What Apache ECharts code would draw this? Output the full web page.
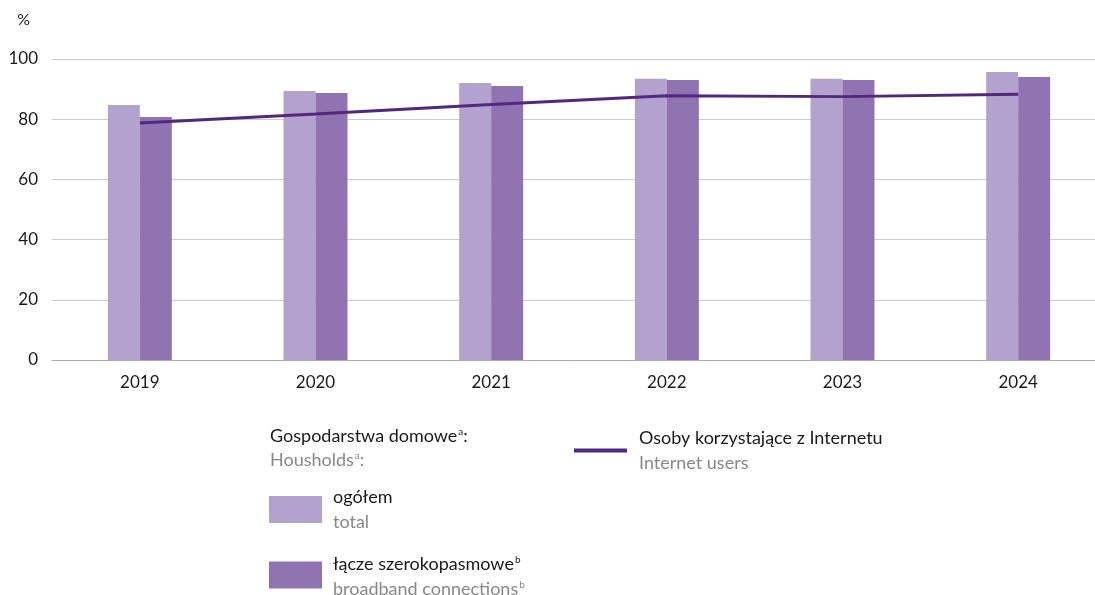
<!DOCTYPE html>
<html>
<head>
<meta charset="utf-8">
<script src="https://cdn.jsdelivr.net/npm/echarts@6/dist/echarts.min.js"></script>
<style>
  html, body { margin: 0; padding: 0; background: #fff; }
  #chart { width: 1095px; height: 595px; }
</style>
</head>
<body>
<div id="chart"></div>
<script>
// Years on the category axis
const years = ['2019', '2020', '2021', '2022', '2023', '2024'];
// Households with Internet access, total (%)
const householdsTotal = [84.7, 89.4, 92.0, 93.4, 93.4, 95.7];
// Households with broadband connection (%)
const householdsBroadband = [80.7, 88.7, 91.0, 93.0, 93.0, 94.0];
// Persons using the Internet (%)
const internetUsers = [78.7, 81.7, 84.9, 87.8, 87.5, 88.3];
// Value axis ticks
const yTicks = { min: 0, max: 100, interval: 20 };

const FONT = 'Lato, "Open Sans", sans-serif';
const C_LIGHT = '#b3a2cd';
const C_DARK = '#8f74b1';
const C_LINE = '#53267f';
const C_TXT = '#1a1a1a';
const C_SUB = '#888888';
const LEG_FS = 18;

// rich styles for legend labels (component level uses `color`)
const rich = {
  pl: { fontFamily: FONT, fontSize: LEG_FS, color: C_TXT, lineHeight: 25 },
  en: { fontFamily: FONT, fontSize: LEG_FS, color: C_SUB, lineHeight: 25 },
  supPl: { fontFamily: FONT, fontSize: 10, color: C_TXT, padding: [0, 0, 9, 1] },
  supEn: { fontFamily: FONT, fontSize: 10, color: C_SUB, padding: [0, 0, 9, 1] }
};
// same styles for a raw graphic text element (zrender uses `fill`)
const richG = {
  pl: { fontFamily: FONT, fontSize: LEG_FS, fill: C_TXT, lineHeight: 24 },
  en: { fontFamily: FONT, fontSize: LEG_FS, fill: C_SUB, lineHeight: 24 },
  supPl: { fontFamily: FONT, fontSize: 10, fill: C_TXT, padding: [0, 0, 9, 1] },
  supEn: { fontFamily: FONT, fontSize: 10, fill: C_SUB, padding: [0, 0, 9, 1] }
};

const chart = echarts.init(document.getElementById('chart'), null, { renderer: 'canvas' });

chart.setOption({
  animation: false,
  grid: { left: 52, top: 59, width: 1054, height: 301, containLabel: false, outerBoundsMode: 'none' },
  xAxis: {
    type: 'category',
    data: years,
    axisTick: { show: false },
    axisLine: { lineStyle: { color: '#aaaaaa', width: 1 } },
    axisLabel: { fontFamily: FONT, fontSize: 17, color: C_TXT, margin: 14 }
  },
  yAxis: {
    type: 'value',
    min: yTicks.min,
    max: yTicks.max,
    interval: yTicks.interval,
    name: '%',
    nameLocation: 'end',
    nameGap: 31,
    nameTextStyle: { fontFamily: FONT, fontSize: 16, color: C_TXT, align: 'right', padding: [0, 22, 0, 0] },
    axisLine: { show: false },
    axisTick: { show: false },
    axisLabel: { fontFamily: FONT, fontSize: 17, color: C_TXT, margin: 14 },
    splitLine: { lineStyle: { color: '#cccccc', width: 1 } }
  },
  legend: [
    {
      left: 269, top: 488, padding: 0,
      itemWidth: 53, itemHeight: 27, itemGap: 0,
      icon: 'rect',
      data: ['ogółem'],
      formatter: () => '{pl|ogółem}\n{en|total}',
      textStyle: { rich, padding: [0, 0, 0, 6] },
      selectedMode: false
    },
    {
      left: 269, top: 555, padding: 0,
      itemWidth: 53, itemHeight: 27, itemGap: 0,
      icon: 'rect',
      data: ['łącze szerokopasmowe'],
      formatter: () => '{pl|łącze szerokopasmowe}{supPl|b}\n{en|broadband connections}{supEn|b}',
      textStyle: { rich, padding: [4, 0, 0, 6] },
      selectedMode: false
    },
    {
      left: 574, top: 429, padding: 0,
      itemWidth: 53, itemHeight: 4, itemGap: 0,
      icon: 'rect',
      data: ['Osoby korzystające z Internetu'],
      formatter: () => '{pl|Osoby korzystające z Internetu}\n{en|Internet users}',
      textStyle: { rich, padding: [0, 0, 0, 7] },
      selectedMode: false
    }
  ],
  graphic: [
    {
      type: 'text',
      left: 270, top: 427,
      style: {
        text: '{pl|Gospodarstwa domowe}{supPl|a}{pl|:}\n{en|Housholds}{supEn|a}{en|:}',
        rich: richG
      }
    }
  ],
  series: [
    {
      name: 'ogółem',
      type: 'bar',
      data: householdsTotal,
      barWidth: 32,
      barGap: '0%',
      itemStyle: { color: C_LIGHT }
    },
    {
      name: 'łącze szerokopasmowe',
      type: 'bar',
      data: householdsBroadband,
      barWidth: 32,
      barGap: '0%',
      itemStyle: { color: C_DARK }
    },
    {
      name: 'Osoby korzystające z Internetu',
      type: 'line',
      data: internetUsers,
      symbol: 'none',
      lineStyle: { color: C_LINE, width: 3 },
      itemStyle: { color: C_LINE },
      z: 5
    }
  ]
});
</script>
</body>
</html>
